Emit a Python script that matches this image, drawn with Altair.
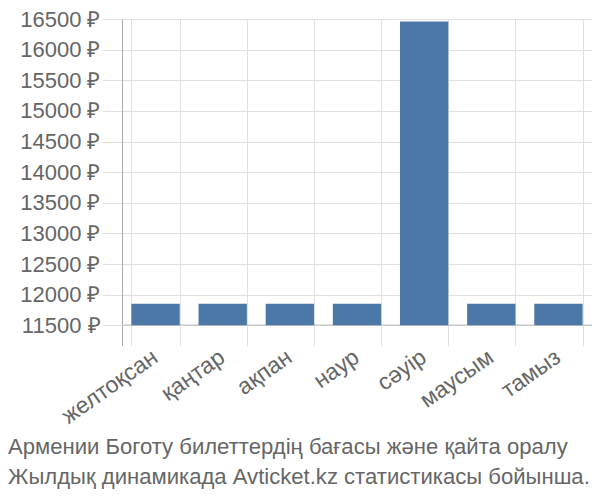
import altair as alt
import pandas as pd

months = ["желтоқсан", "қаңтар", "ақпан", "наур", "сәуір", "маусым", "тамыз"]
prices = [11850, 11850, 11850, 11850, 16460, 11850, 11850]
y_ticks = [11500, 12000, 12500, 13000, 13500, 14000, 14500, 15000, 15500, 16000, 16500]
title_lines = ["Армении Боготу билеттердің бағасы және қайта оралу",
               "Жылдық динамикада Avticket.kz статистикасы бойынша."]
baseline = 11500

df = pd.DataFrame({"month": months, "price": prices, "base": [baseline] * len(months)})

FONT = "Liberation Sans"
GRID = "#e0e0e0"
YDOM = [11170, 16500]

x = alt.X("month:N", sort=months, title=None,
          scale=alt.Scale(paddingInner=0.28, paddingOuter=0.14),
          axis=alt.Axis(domain=False, ticks=False, grid=True, gridColor=GRID,
                        tickBand="extent", labelAngle=-35, labelAlign="right",
                        labelBaseline="top", labelFontSize=23, labelColor="#666",
                        labelFont=FONT, labelPadding=0, labelOffset=-7))
y_axis = alt.Axis(values=y_ticks, grid=True, gridColor=GRID,
                  tickSize=20, tickColor=GRID, domain=True, domainColor="#aaaaaa",
                  labelExpr="datum.value + ' ₽'", labelFontSize=22,
                  labelOverlap=False, labelColor="#666", labelFont=FONT,
                  labelPadding=2)
y_scale = alt.Scale(domain=YDOM, nice=False, zero=False)

bars = alt.Chart(df).mark_bar(color="#4c78a8").encode(
    x=x, y=alt.Y("price:Q", title=None, scale=y_scale, axis=y_axis), y2="base:Q")

rule = alt.Chart(pd.DataFrame({"price": [baseline]})).mark_rule(
    color="#c8c8c8", strokeWidth=1.5).encode(
    y=alt.Y("price:Q", title=None, scale=y_scale, axis=y_axis)
)

chart = alt.layer(rule, bars).properties(
    width=470, height=326.5,
    autosize=alt.AutoSizeParams(type="none"),
    padding={"left": 114, "top": 11, "right": 0, "bottom": 146.5},
    title=alt.TitleParams(text=title_lines, orient="bottom", anchor="start",
                          fontSize=22.1, fontWeight="normal", color="#666", font=FONT,
                          offset=9, dx=-114, lineHeight=30, frame="group"),
).configure_view(stroke=None)

chart.save("out.html", embed_options={"renderer": "svg", "actions": False})
